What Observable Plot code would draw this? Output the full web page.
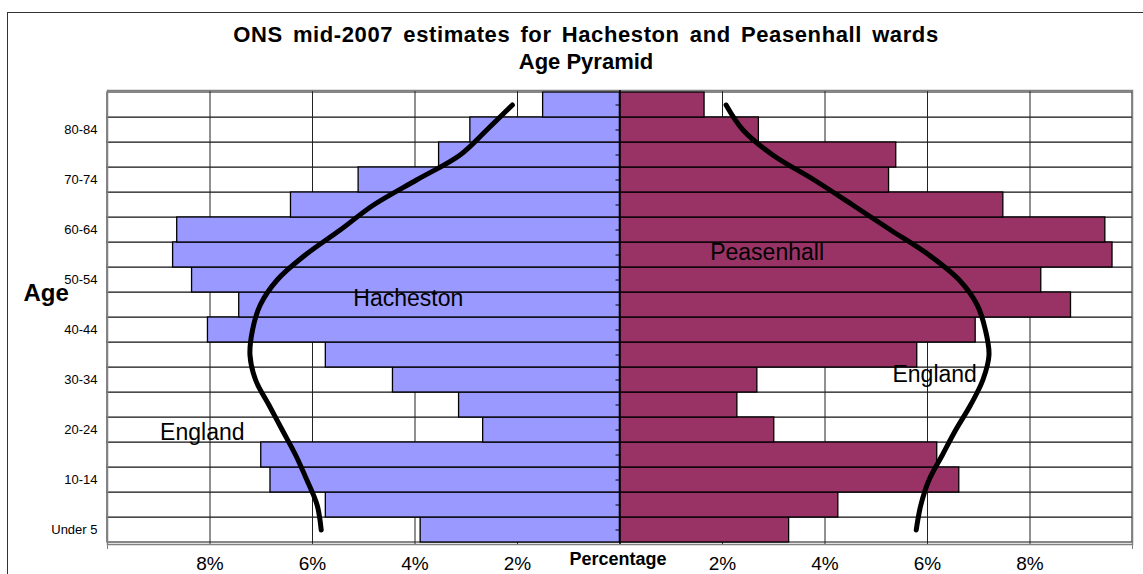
<!DOCTYPE html>
<html>
<head>
<meta charset="utf-8">
<script src="https://cdn.jsdelivr.net/npm/d3@7"></script>
<script src="https://cdn.jsdelivr.net/npm/@observablehq/plot@0.6"></script>
<style>
  html, body { margin: 0; padding: 0; background: white; }
  #wrap { position: relative; width: 1143px; height: 574px; overflow: hidden; font-family: "Liberation Sans", Arial, sans-serif; }
  #title { position: absolute; left: 0; top: 21px; width: 1172px; text-align: center; font-size: 22px; font-weight: bold; line-height: 27px; color: #000; }
  #title .l1 { letter-spacing: 0.6px; word-spacing: 3.5px; }
  #border { position: absolute; left: 7px; top: 12px; width: 1300px; height: 700px; border: 1.5px solid #333; pointer-events: none; }
  #chart { position: absolute; left: 0; top: 0; }
</style>
</head>
<body>
<div id="wrap">
  <div id="chart"></div>
  <div id="title"><span class="l1">ONS mid-2007 estimates for Hacheston and Peasenhall wards</span><br>Age Pyramid</div>
  <div id="border"></div>
</div>
<script>
// Age groups, bottom (youngest) to top (oldest)
const ages = ["Under 5","5-9","10-14","15-19","20-24","25-29","30-34","35-39","40-44","45-49","50-54","55-59","60-64","65-69","70-74","75-79","80-84","85+"];
// Percent of population in each age group
const hacheston  = [3.89, 5.74, 6.82, 7.00, 2.67, 3.14, 4.43, 5.74, 8.04, 7.43, 8.35, 8.72, 8.64, 6.42, 5.10, 3.53, 2.92, 1.50];
const peasenhall = [3.30, 4.26, 6.62, 6.19, 3.01, 2.29, 2.68, 5.80, 6.94, 8.80, 8.22, 9.61, 9.47, 7.48, 5.25, 5.39, 2.71, 1.65];
// England profile, as hand-drawn on each side
const englandLeft  = [5.83, 5.91, 6.11, 6.33, 6.59, 6.85, 7.11, 7.22, 7.17, 7.02, 6.69, 6.14, 5.46, 4.81, 3.97, 3.12, 2.60, 2.10];
const englandRight = [5.78, 5.87, 6.03, 6.29, 6.55, 6.84, 7.08, 7.20, 7.13, 6.97, 6.62, 6.03, 5.28, 4.54, 3.79, 2.98, 2.40, 2.07];
// Tick labels
const labeledAges = ["Under 5","10-14","20-24","30-34","40-44","50-54","60-64","70-74","80-84"];
const xTicks = [-8, -6, -4, -2, 2, 4, 6, 8];

const rows = ages.map((age, i) => ({
  age, h: hacheston[i], p: peasenhall[i], eL: englandLeft[i], eR: englandRight[i]
}));

const hTick = {
  draw(context, size) {
    const r = Math.sqrt(size / Math.PI);
    context.moveTo(-r, 0);
    context.lineTo(r, 0);
  }
};

const font = "Liberation Sans, Arial, sans-serif";

const chart = Plot.plot({
  width: 1143,
  height: 574,
  marginLeft: 107,
  marginRight: 11,
  marginTop: 90,
  marginBottom: 30,
  style: { background: "transparent", fontFamily: font, color: "black", overflow: "visible" },
  x: { domain: [-10, 10], label: null },
  y: { domain: ages.slice().reverse(), padding: 0, label: null },
  marks: [
    Plot.cell(rows, { y: "age", fill: "white", stroke: "#111", strokeWidth: 1 }),
    Plot.gridX({ ticks: xTicks, stroke: "#222", strokeOpacity: 1, strokeWidth: 1 }),
    Plot.barX(rows, { y: "age", x1: () => 0, x2: d => -d.h, fill: "#9999FF", stroke: "black", strokeWidth: 1.3 }),
    Plot.barX(rows, { y: "age", x1: () => 0, x2: d => d.p, fill: "#993366", stroke: "black", strokeWidth: 1.3 }),
    Plot.frame({ stroke: "#808080", strokeWidth: 1.5 }),
    Plot.ruleX([0], { stroke: "black", strokeWidth: 1.5 }),
    Plot.dot(rows, { x: () => 0, y: "age", r: 2.5, dx: -2, symbol: hTick, stroke: "black", strokeWidth: 1 }),
    Plot.line(rows, { x: d => -d.eL, y: "age", curve: "catmull-rom", stroke: "black", strokeWidth: 5, strokeLinecap: "round", strokeLinejoin: "round" }),
    Plot.line(rows, { x: d => d.eR, y: "age", curve: "catmull-rom", stroke: "black", strokeWidth: 5, strokeLinecap: "round", strokeLinejoin: "round" }),
    Plot.text(["Hacheston"], { x: () => -4.13, y: () => "45-49", dy: -6, fontSize: 23, fill: "black" }),
    Plot.text(["Peasenhall"], { x: () => 2.87, y: () => "55-59", dy: -2, fontSize: 23, fill: "black" }),
    Plot.text(["England"], { x: () => -8.15, y: () => "20-24", dy: 3, fontSize: 23, fill: "black" }),
    Plot.text(["England"], { x: () => 6.14, y: () => "30-34", dy: -5, fontSize: 23, fill: "black" }),
    Plot.text(["Age"], { frameAnchor: "left", textAnchor: "start", lineAnchor: "middle", dx: -84, dy: -24, fontSize: 24, fontWeight: "bold", fill: "black" }),
    Plot.text(["Percentage"], { x: () => 0, frameAnchor: "bottom", lineAnchor: "middle", dx: -2, dy: 15, fontSize: 18, fontWeight: "bold", fill: "black" }),
    Plot.axisX({ ticks: xTicks, tickFormat: d => Math.abs(d) + "%", tickSize: 0, tickPadding: 12, fontSize: 19, label: null }),
    Plot.axisX({ ticks: [-10, 10], tickFormat: () => "", tickSize: 5, stroke: "#808080", label: null }),
    Plot.axisY({ tickFormat: d => labeledAges.includes(d) ? d : "", tickSize: 0, tickPadding: 10, fontSize: 13, label: null })
  ]
});

document.getElementById("chart").appendChild(chart);
</script>
</body>
</html>
